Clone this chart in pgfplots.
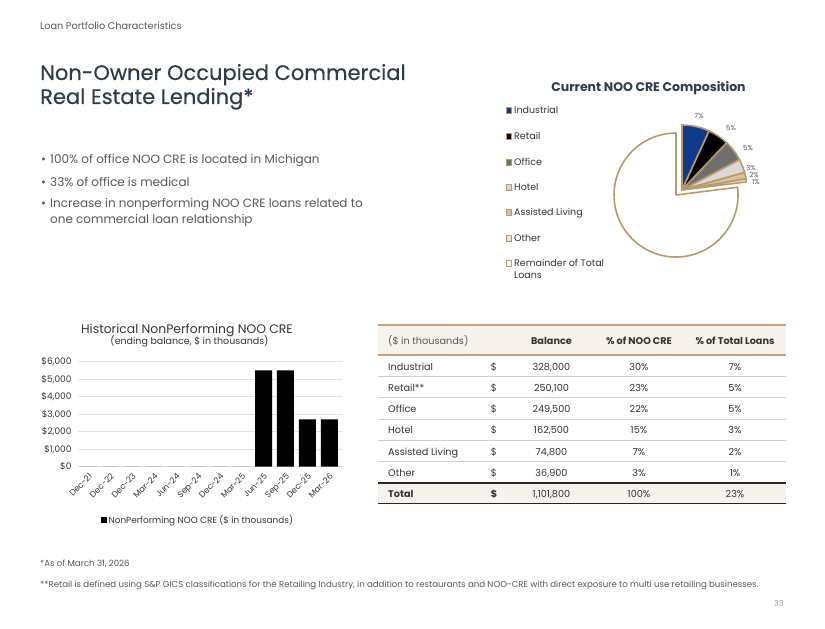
\documentclass[border=0pt]{standalone}
\usepackage{fontspec}
\setmainfont{Poppins}
\newfontfamily\titlefont{Poppins}[FakeBold=0.35]
\usepackage{pgfplots}
\pgfplotsset{compat=1.18}
\definecolor{titlec}{HTML}{2E3B4A}
\definecolor{txt}{HTML}{555759}
\definecolor{dark}{HTML}{333333}
\definecolor{tan}{HTML}{C2A57C}
\definecolor{piebord}{HTML}{B8996A}
\definecolor{navy}{HTML}{0E3A8C}
\definecolor{offc}{HTML}{6F6F6F}
\definecolor{hotc}{HTML}{D8D8D8}
\definecolor{alc}{HTML}{D9C29C}
\definecolor{othc}{HTML}{EDE2CE}
\definecolor{hdrbg}{HTML}{F6F3EF}
\definecolor{sep}{HTML}{CFCFCF}
\newcommand{\fs}[1]{\fontsize{#1bp}{#1bp}\selectfont}
% pie slice: start %, end %, fill, dx, dy, radius
\newcommand{\pieslice}[6]{%
  \filldraw[fill=#3, draw=piebord, line width=1.6bp, line join=round]
    (axis cs:#4,#5) -- ++({90-3.6*#1}:#6bp)
    arc[start angle={90-3.6*#1}, end angle={90-3.6*#2}, radius=#6bp] -- cycle;}
\newcommand{\trow}[5]{%
  \node[anchor=base west] at (388,#1) {#2};
  \node[anchor=base] at (494,#1) {\$};
  \node[anchor=base] at (551.5,#1) {#3};
  \node[anchor=base] at (639,#1) {#4\%};
  \node[anchor=base] at (735,#1) {#5\%};}
\pgfplotstableread{
idx val
0 0
1 0
2 0
3 0
4 0
5 0
6 0
7 0
8 5500
9 5500
10 2700
11 2700
}\nptable
\begin{document}
\begin{tikzpicture}
\begin{scope}[x=1bp,y=-1bp]
\useasboundingbox[fill=white] (0,0) rectangle (825,629);
% header
\node[anchor=base west, inner sep=0, text=txt, font=\fs{9.7}] at (40,29.5) {Loan Portfolio Characteristics};
\node[anchor=base west, inner sep=0, text=titlec, font=\titlefont\fs{21}] at (40,80) {Non-Owner Occupied Commercial};
\node[anchor=base west, inner sep=0, text=titlec, font=\titlefont\fs{21}] at (40,104) {Real Estate Lending*};
% bullets
\begin{scope}[every node/.style={anchor=base west, inner sep=0, text=txt, font=\fs{12}}]
\node at (41,164) {•}; \node at (50,164) {100\% of office NOO CRE is located in Michigan};
\node at (41,187) {•}; \node at (50,187) {33\% of office is medical};
\node at (41,208) {•}; \node at (50,208) {Increase in nonperforming NOO CRE loans related to};
\node at (50,223.5) {one commercial loan relationship};
\end{scope}
% pie title and legend
\node[anchor=base, inner sep=0, text=titlec, font=\bfseries\fs{12.5}] at (648.5,92) {Current NOO CRE Composition};
\begin{scope}[every node/.style={anchor=base west, inner sep=0, text=dark, font=\fs{9.5}}]
\foreach \y/\c/\lab in {110/navy/Industrial, 136/black/Retail, 162/offc/Office, 187/hotc/Hotel, 212/alc/Assisted Living, 238/othc/Other, 263/white/Remainder of Total}{
  \filldraw[fill=\c, draw=piebord, line width=0.7bp] (506,\y-2.5) rectangle (511.5,\y+3);
  \node at (514,\y+3.5) {\lab};
}
\node at (514,278.5) {Loans};
\end{scope}
% pie labels
\begin{scope}[every node/.style={anchor=center, inner sep=0, text=txt, font=\fs{7}}]
\node at (699,116) {7\%};
\node at (731,128) {5\%};
\node at (748,148) {5\%};
\node at (751,168) {3\%};
\node at (754,174.5) {2\%};
\node at (756,182) {1\%};
\end{scope}
% bar chart titles
\node[anchor=base, inner sep=0, text=dark, font=\fs{12.4}] at (187,333) {Historical NonPerforming NOO CRE};
\node[anchor=base, inner sep=0, text=dark, font=\fs{9.5}] at (189.5,344.5) {(ending balance, \$ in thousands)};
% table
\fill[hdrbg] (378,325) rectangle (786,355);
\fill[hdrbg] (378,483) rectangle (786,503);
\draw[tan, line width=2bp] (378,325) -- (786,325);
\draw[tan, line width=1.5bp] (378,355) -- (786,355);
\foreach \y in {376.5,397.5,419,440,461.5}{\draw[sep, line width=0.8bp] (378,\y) -- (786,\y);}
\draw[black!85, line width=1.5bp] (378,483) -- (786,483);
\draw[black!85, line width=1.5bp] (378,503.5) -- (786,503.5);
\begin{scope}[every node/.style={inner sep=0, text=dark, font=\fs{9.7}}]
\node[anchor=base west, text=txt] at (388,344) {(\$ in thousands)};
\node[anchor=base, font=\bfseries\fs{9.7}] at (551.5,344) {Balance};
\node[anchor=base, font=\bfseries\fs{9.7}] at (639,344) {\% of NOO CRE};
\node[anchor=base, font=\bfseries\fs{9.7}] at (735,344) {\% of Total Loans};
\trow{370}{Industrial}{328,000}{30}{7}
\trow{391.5}{Retail**}{250,100}{23}{5}
\trow{412.5}{Office}{249,500}{22}{5}
\trow{433.5}{Hotel}{162,500}{15}{3}
\trow{455}{Assisted Living}{74,800}{7}{2}
\trow{476}{Other}{36,900}{3}{1}
\node[anchor=base west, font=\bfseries\fs{9.7}] at (388,497) {Total};
\node[anchor=base, font=\bfseries\fs{9.7}] at (494,497) {\$};
\node[anchor=base] at (551.5,497) {1,101,800};
\node[anchor=base] at (639,497) {100\%};
\node[anchor=base] at (735,497) {23\%};
\end{scope}
% footnotes
\node[anchor=base west, inner sep=0, text=txt, font=\fs{8.6}] at (40,566) {*As of March 31, 2026};
\node[anchor=base west, inner sep=0, text=txt, font=\fs{8.6}] at (40,587) {**Retail is defined using S\&P GICS classifications for the Retailing Industry, in addition to restaurants and NOO-CRE with direct exposure to multi use retailing businesses.};
\node[anchor=base west, inner sep=0, text=black!40, font=\fs{8}] at (774,606) {33};
\end{scope}
% pie
\begin{axis}[at={(676bp,-195bp)}, anchor=center, hide axis, x=1bp, y=1bp,
  xmin=-90, xmax=90, ymin=-90, ymax=90, clip=false]
\addplot[draw=none] coordinates {(0,0)};
\pieslice{23}{100}{white}{0}{0}{62}
\pieslice{0}{6.85}{navy}{6}{5}{65}
\pieslice{6.85}{12.07}{black}{6}{5}{65}
\pieslice{12.07}{17.28}{offc}{6}{5}{65}
\pieslice{17.28}{20.67}{hotc}{6}{5}{65}
\pieslice{20.67}{22.23}{alc}{6}{5}{65}
\pieslice{22.23}{23.0}{othc}{6}{5}{65}
\end{axis}
% bar chart
\begin{axis}[at={(78bp,-466.7bp)}, anchor=south west,
  width=264bp, height=105bp, scale only axis,
  xmin=-0.47, xmax=11.58, ymin=0, ymax=6000,
  ybar, bar width=17bp,
  axis line style={draw=none}, tick style={draw=none},
  /pgf/number format/assume math mode=true,
  ytick={0,1000,...,6000},
  yticklabels={{\$0},{\$1,000},{\$2,000},{\$3,000},{\$4,000},{\$5,000},{\$6,000}},
  yticklabel style={font=\fs{9}, text=dark, xshift=-3bp},
  xtick={0,...,11},
  xticklabels={Dec-21,Dec-22,Dec-23,Mar-24,Jun-24,Sep-24,Dec-24,Mar-25,Jun-25,Sep-25,Dec-25,Mar-26},
  xticklabel style={rotate=45, anchor=north east, font=\fs{8.3}, text=dark, inner sep=1bp},
  ymajorgrids, grid style={draw=black!12, line width=0.7bp},
  legend style={draw=none, at={(0.455,-0.508)}, anchor=center, font=\fs{8.9}, text=dark, inner sep=0pt},
  legend image code/.code={\fill[black] (0bp,-2.7bp) rectangle (5.4bp,2.7bp);},
  ]
\addplot[fill=black, draw=none] table[x=idx, y=val] {\nptable};
\addlegendentry{NonPerforming NOO CRE (\$ in thousands)}
\end{axis}
\end{tikzpicture}
\end{document}
